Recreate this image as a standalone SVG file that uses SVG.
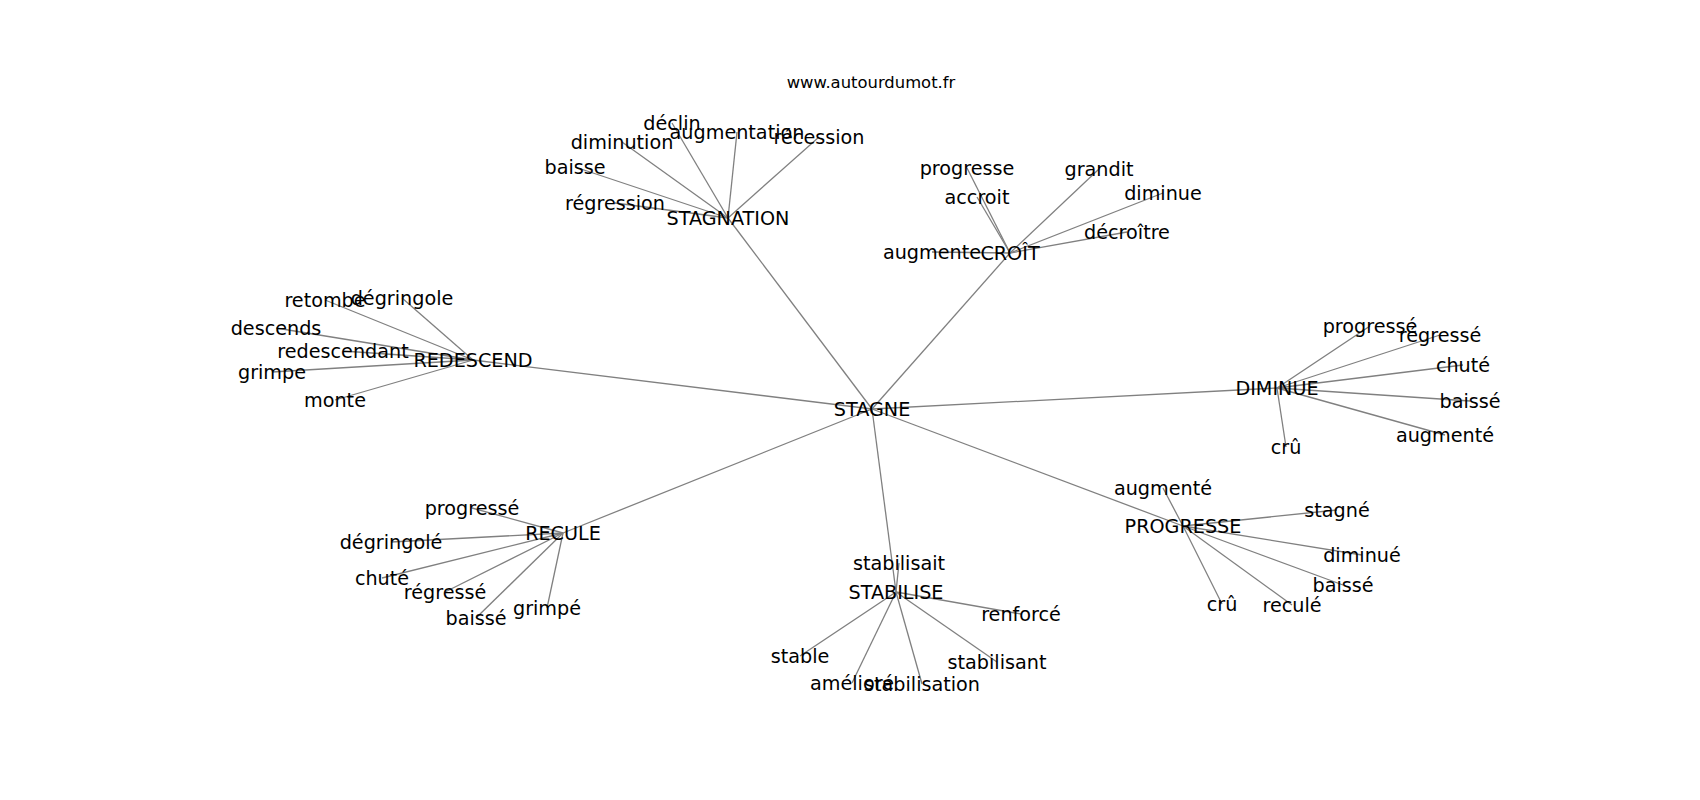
<svg xmlns="http://www.w3.org/2000/svg" width="1700" height="800" viewBox="0 0 1700 800">
<style>
  .e { stroke: #808080; stroke-width: 1.3; fill: none; }
  text { font-family: "DejaVu Sans", "Liberation Sans", sans-serif; fill: #000; text-anchor: middle; dominant-baseline: central; }
  .n { font-size: 19.2px; }
  .t { font-size: 16.4px; }
</style>
<rect width="1700" height="800" fill="#ffffff"/>
<text class="t" x="871" y="82">www.autourdumot.fr</text>
<g id="connectors">
  <line class="e" x1="872" y1="409" x2="728" y2="218"/>
  <line class="e" x1="872" y1="409" x2="1010" y2="253"/>
  <line class="e" x1="872" y1="409" x2="473" y2="360"/>
  <line class="e" x1="872" y1="409" x2="1277" y2="388"/>
  <line class="e" x1="872" y1="409" x2="1183" y2="526"/>
  <line class="e" x1="872" y1="409" x2="896" y2="592"/>
  <line class="e" x1="872" y1="409" x2="563" y2="533"/>
  <!-- STAGNATION -->
  <line class="e" x1="728" y1="218" x2="672" y2="123"/>
  <line class="e" x1="728" y1="218" x2="737" y2="132"/>
  <line class="e" x1="728" y1="218" x2="819" y2="137"/>
  <line class="e" x1="728" y1="218" x2="622" y2="142"/>
  <line class="e" x1="728" y1="218" x2="575" y2="167"/>
  <line class="e" x1="728" y1="218" x2="615" y2="203"/>
  <!-- CROIT -->
  <line class="e" x1="1010" y1="253" x2="967" y2="168"/>
  <line class="e" x1="1010" y1="253" x2="1099" y2="169"/>
  <line class="e" x1="1010" y1="253" x2="977" y2="197"/>
  <line class="e" x1="1010" y1="253" x2="1163" y2="193"/>
  <line class="e" x1="1010" y1="253" x2="1127" y2="232"/>
  <line class="e" x1="1010" y1="253" x2="932" y2="252"/>
  <!-- REDESCEND -->
  <line class="e" x1="473" y1="360" x2="325" y2="300"/>
  <line class="e" x1="473" y1="360" x2="402" y2="298"/>
  <line class="e" x1="473" y1="360" x2="276" y2="328"/>
  <line class="e" x1="473" y1="360" x2="343" y2="351"/>
  <line class="e" x1="473" y1="360" x2="272" y2="372"/>
  <line class="e" x1="473" y1="360" x2="335" y2="400"/>
  <!-- DIMINUE -->
  <line class="e" x1="1277" y1="388" x2="1370" y2="326"/>
  <line class="e" x1="1277" y1="388" x2="1440" y2="335"/>
  <line class="e" x1="1277" y1="388" x2="1463" y2="365"/>
  <line class="e" x1="1277" y1="388" x2="1470" y2="401"/>
  <line class="e" x1="1277" y1="388" x2="1445" y2="435"/>
  <line class="e" x1="1277" y1="388" x2="1286" y2="447"/>
  <!-- PROGRESSE -->
  <line class="e" x1="1183" y1="526" x2="1163" y2="488"/>
  <line class="e" x1="1183" y1="526" x2="1337" y2="510"/>
  <line class="e" x1="1183" y1="526" x2="1362" y2="555"/>
  <line class="e" x1="1183" y1="526" x2="1343" y2="585"/>
  <line class="e" x1="1183" y1="526" x2="1292" y2="605"/>
  <line class="e" x1="1183" y1="526" x2="1222" y2="604"/>
  <!-- STABILISE -->
  <line class="e" x1="896" y1="592" x2="899" y2="563"/>
  <line class="e" x1="896" y1="592" x2="1021" y2="614"/>
  <line class="e" x1="896" y1="592" x2="800" y2="656"/>
  <line class="e" x1="896" y1="592" x2="852" y2="683"/>
  <line class="e" x1="896" y1="592" x2="922" y2="684"/>
  <line class="e" x1="896" y1="592" x2="997" y2="662"/>
  <!-- RECULE -->
  <line class="e" x1="563" y1="533" x2="472" y2="508"/>
  <line class="e" x1="563" y1="533" x2="391" y2="542"/>
  <line class="e" x1="563" y1="533" x2="382" y2="578"/>
  <line class="e" x1="563" y1="533" x2="445" y2="592"/>
  <line class="e" x1="563" y1="533" x2="476" y2="618"/>
  <line class="e" x1="563" y1="533" x2="547" y2="608"/>
</g>
<g id="node-stagne"><text class="n" x="872" y="409">STAGNE</text></g>
<g id="node-stagnation"><text class="n" x="728" y="218">STAGNATION</text></g>
<g id="node-croit"><text class="n" x="1010" y="253">CROÎT</text></g>
<g id="node-redescend"><text class="n" x="473" y="360">REDESCEND</text></g>
<g id="node-diminue"><text class="n" x="1277" y="388">DIMINUE</text></g>
<g id="node-progresse"><text class="n" x="1183" y="526">PROGRESSE</text></g>
<g id="node-stabilise"><text class="n" x="896" y="592">STABILISE</text></g>
<g id="node-recule"><text class="n" x="563" y="533">RECULE</text></g>

<g id="node-declin"><text class="n" x="672" y="123">déclin</text></g>
<g id="node-augmentation"><text class="n" x="737" y="132">augmentation</text></g>
<g id="node-recession"><text class="n" x="819" y="137">récession</text></g>
<g id="node-diminution"><text class="n" x="622" y="142">diminution</text></g>
<g id="node-baisse"><text class="n" x="575" y="167">baisse</text></g>
<g id="node-regression"><text class="n" x="615" y="203">régression</text></g>

<g id="node-progresse2"><text class="n" x="967" y="168">progresse</text></g>
<g id="node-grandit"><text class="n" x="1099" y="169">grandit</text></g>
<g id="node-accroit"><text class="n" x="977" y="197">accroit</text></g>
<g id="node-diminue2"><text class="n" x="1163" y="193">diminue</text></g>
<g id="node-decroitre"><text class="n" x="1127" y="232">décroître</text></g>
<g id="node-augmente"><text class="n" x="932" y="252">augmente</text></g>

<g id="node-retombe"><text class="n" x="325" y="300">retombe</text></g>
<g id="node-degringole"><text class="n" x="402" y="298">dégringole</text></g>
<g id="node-descends"><text class="n" x="276" y="328">descends</text></g>
<g id="node-redescendant"><text class="n" x="343" y="351">redescendant</text></g>
<g id="node-grimpe"><text class="n" x="272" y="372">grimpe</text></g>
<g id="node-monte"><text class="n" x="335" y="400">monte</text></g>

<g id="node-progresse-d"><text class="n" x="1370" y="326">progressé</text></g>
<g id="node-regresse-d"><text class="n" x="1440" y="335">régressé</text></g>
<g id="node-chute-d"><text class="n" x="1463" y="365">chuté</text></g>
<g id="node-baisse-d"><text class="n" x="1470" y="401">baissé</text></g>
<g id="node-augmente-d"><text class="n" x="1445" y="435">augmenté</text></g>
<g id="node-cru-d"><text class="n" x="1286" y="447">crû</text></g>

<g id="node-augmente-p"><text class="n" x="1163" y="488">augmenté</text></g>
<g id="node-stagne-p"><text class="n" x="1337" y="510">stagné</text></g>
<g id="node-diminue-p"><text class="n" x="1362" y="555">diminué</text></g>
<g id="node-baisse-p"><text class="n" x="1343" y="585">baissé</text></g>
<g id="node-recule-p"><text class="n" x="1292" y="605">reculé</text></g>
<g id="node-cru-p"><text class="n" x="1222" y="604">crû</text></g>

<g id="node-stabilisait"><text class="n" x="899" y="563">stabilisait</text></g>
<g id="node-renforce"><text class="n" x="1021" y="614">renforcé</text></g>
<g id="node-stable"><text class="n" x="800" y="656">stable</text></g>
<g id="node-ameliore"><text class="n" x="852" y="683">amélioré</text></g>
<g id="node-stabilisation"><text class="n" x="922" y="684">stabilisation</text></g>
<g id="node-stabilisant"><text class="n" x="997" y="662">stabilisant</text></g>

<g id="node-progresse-r"><text class="n" x="472" y="508">progressé</text></g>
<g id="node-degringole-r"><text class="n" x="391" y="542">dégringolé</text></g>
<g id="node-chute-r"><text class="n" x="382" y="578">chuté</text></g>
<g id="node-regresse-r"><text class="n" x="445" y="592">régressé</text></g>
<g id="node-baisse-r"><text class="n" x="476" y="618">baissé</text></g>
<g id="node-grimpe-r"><text class="n" x="547" y="608">grimpé</text></g>
</svg>
